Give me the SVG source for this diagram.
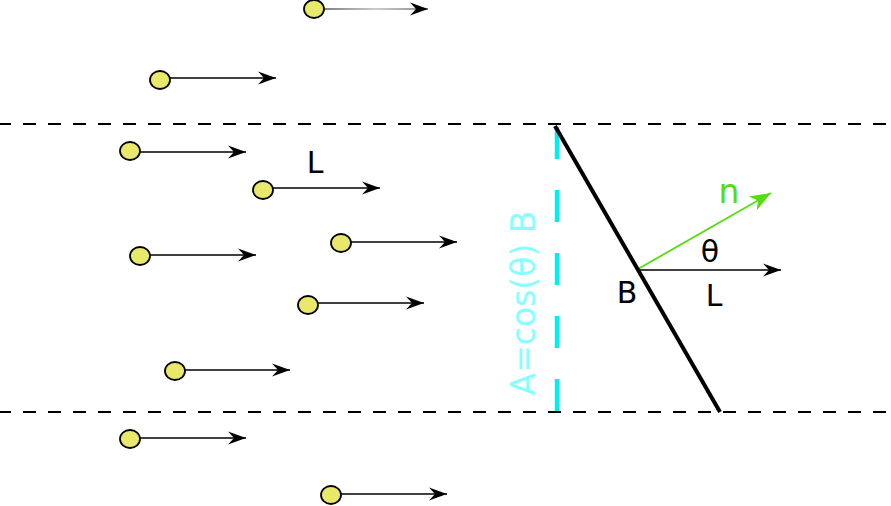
<svg xmlns="http://www.w3.org/2000/svg" width="891" height="506" viewBox="0 0 891 506">
<style>
.p{fill:#e8e86a;stroke:#000;stroke-width:1.8}
.a{stroke:#000;stroke-width:1.5;fill:none}
.d{stroke:#000;stroke-width:1.8;stroke-dasharray:13,12;stroke-dashoffset:2;fill:none}
.t{font-family:"DejaVu Sans",sans-serif;font-size:30px;fill:#000}
</style>
<defs>
<marker id="ah" markerUnits="userSpaceOnUse" markerWidth="22" markerHeight="16" viewBox="-19 -8 20 16" refX="0" refY="0" orient="auto">
<path d="M0,0 L-18,-6.5 L-12,0 L-18,6.5 Z" fill="#000"/>
</marker>
<marker id="ahg" markerUnits="userSpaceOnUse" markerWidth="26" markerHeight="18" viewBox="-22 -9 23 18" refX="0" refY="0" orient="auto">
<path d="M0,0 L-21,-8 L-15,0 L-21,8 Z" fill="#55dd11"/>
</marker>
<linearGradient id="gr" gradientUnits="userSpaceOnUse" x1="324" y1="0" x2="428" y2="0">
<stop offset="0" stop-color="#555"/>
<stop offset="0.5" stop-color="#bbb"/>
<stop offset="1" stop-color="#666"/>
</linearGradient>
</defs>
<g id="connectors">
<line class="d" x1="0" y1="124" x2="891" y2="124"/>
<line class="d" x1="0" y1="412" x2="891" y2="412"/>
<line x1="324" y1="9" x2="428" y2="9" stroke="url(#gr)" stroke-width="1.5" marker-end="url(#ah)"/>
<line class="a" x1="170" y1="78" x2="276" y2="78" marker-end="url(#ah)"/>
<line class="a" x1="140" y1="152" x2="246" y2="152" marker-end="url(#ah)"/>
<line class="a" x1="273" y1="188" x2="380" y2="188" marker-end="url(#ah)"/>
<line class="a" x1="351" y1="242" x2="457" y2="242" marker-end="url(#ah)"/>
<line class="a" x1="150" y1="255" x2="256" y2="255" marker-end="url(#ah)"/>
<line class="a" x1="318" y1="303" x2="424" y2="303" marker-end="url(#ah)"/>
<line class="a" x1="185" y1="370" x2="290" y2="370" marker-end="url(#ah)"/>
<line class="a" x1="140" y1="438" x2="246" y2="438" marker-end="url(#ah)"/>
<line class="a" x1="341" y1="494" x2="447" y2="494" marker-end="url(#ah)"/>
<line class="a" x1="638" y1="270" x2="781" y2="270" marker-end="url(#ah)"/>
<line x1="638" y1="269" x2="771" y2="193" stroke="#55dd11" stroke-width="1.8" marker-end="url(#ahg)"/>
</g>
<g id="particles">
<ellipse class="p" cx="314" cy="9" rx="10" ry="9"/>
<ellipse class="p" cx="160" cy="80" rx="10" ry="9"/>
<ellipse class="p" cx="130" cy="151" rx="10" ry="9"/>
<ellipse class="p" cx="263" cy="190" rx="10" ry="9"/>
<ellipse class="p" cx="341" cy="243" rx="10" ry="9"/>
<ellipse class="p" cx="140" cy="256" rx="10" ry="9"/>
<ellipse class="p" cx="308" cy="305" rx="10" ry="9"/>
<ellipse class="p" cx="175" cy="371" rx="10" ry="9"/>
<ellipse class="p" cx="130" cy="439" rx="10" ry="9"/>
<ellipse class="p" cx="331" cy="495" rx="10" ry="9"/>
</g>
<g id="surface">
<line x1="557" y1="127" x2="557" y2="412" stroke="#00eeee" stroke-width="4.5" stroke-dasharray="32,31"/>
<line x1="555" y1="126" x2="720" y2="412" stroke="#000" stroke-width="4"/>
</g>
<g id="labels">
<text class="t" x="315" y="173" text-anchor="middle">L</text>
<text class="t" x="627" y="303" text-anchor="middle">B</text>
<text class="t" x="714" y="306" text-anchor="middle">L</text>
<text class="t" x="710" y="262" text-anchor="middle">θ</text>
<text class="t" x="729" y="203" text-anchor="middle" style="fill:#55dd11;font-size:33px">n</text>
<text class="t" transform="translate(535,303) rotate(-90)" text-anchor="middle" style="font-size:33px;fill:#88ffff">A=cos(θ) B</text>
</g>
</svg>
